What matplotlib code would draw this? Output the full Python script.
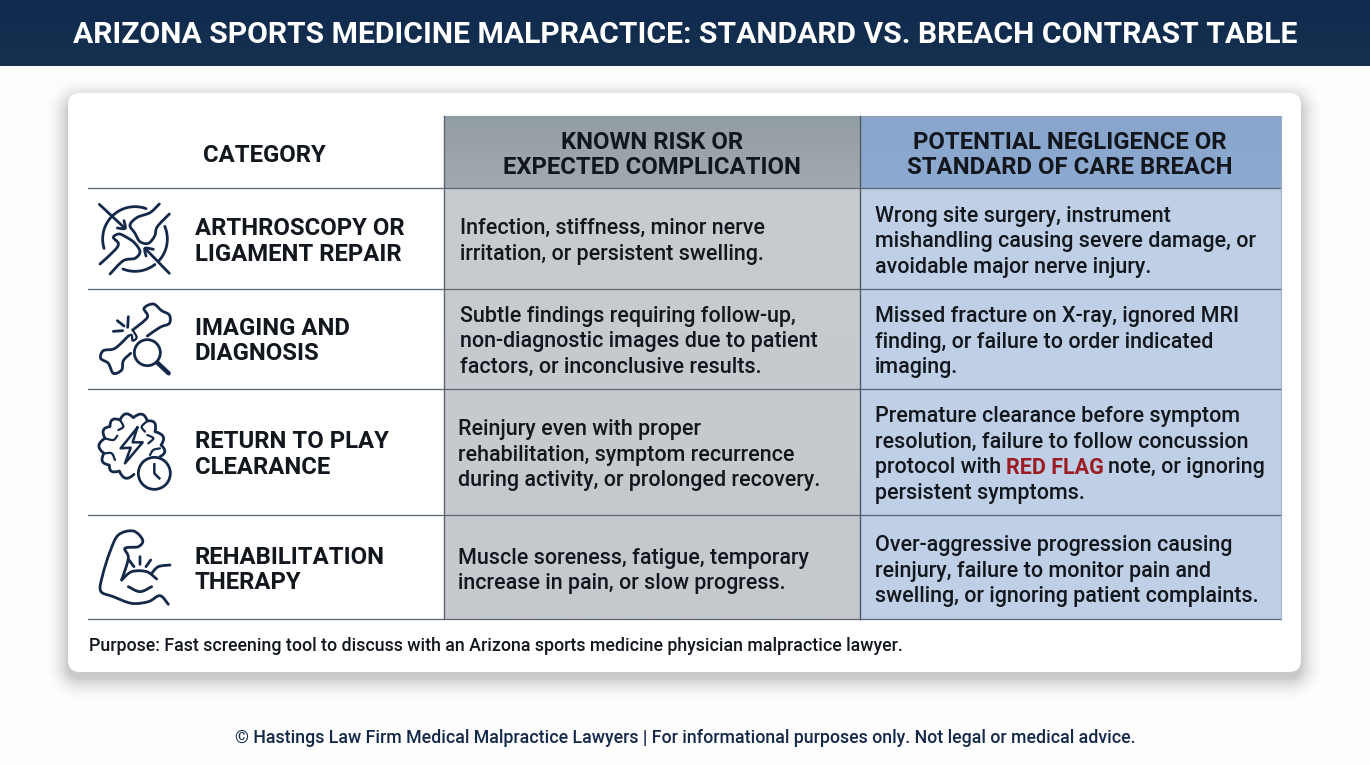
import numpy as np
import matplotlib
matplotlib.use('Agg')
import matplotlib.pyplot as plt
from matplotlib.patches import FancyBboxPatch, Circle
from matplotlib.path import Path
from matplotlib.patches import PathPatch

TITLE = 'ARIZONA SPORTS MEDICINE MALPRACTICE: STANDARD VS. BREACH CONTRAST TABLE'
HEAD_CATEGORY = 'CATEGORY'
HEAD_KNOWN = ['KNOWN RISK OR', 'EXPECTED COMPLICATION']
HEAD_BREACH = ['POTENTIAL NEGLIGENCE OR', 'STANDARD OF CARE BREACH']
CATEGORIES = [['ARTHROSCOPY OR', 'LIGAMENT REPAIR'],
              ['IMAGING AND', 'DIAGNOSIS'],
              ['RETURN TO PLAY', 'CLEARANCE'],
              ['REHABILITATION', 'THERAPY']]
KNOWN = [['Infection, stiffness, minor nerve', 'irritation, or persistent swelling.'],
         ['Subtle findings requiring follow-up,', 'non-diagnostic images due to patient', 'factors, or inconclusive results.'],
         ['Reinjury even with proper', 'rehabilitation, symptom recurrence', 'during activity, or prolonged recovery.'],
         ['Muscle soreness, fatigue, temporary', 'increase in pain, or slow progress.']]
BREACH = [['Wrong site surgery, instrument', 'mishandling causing severe damage, or', 'avoidable major nerve injury.'],
          ['Missed fracture on X-ray, ignored MRI', 'finding, or failure to order indicated', 'imaging.'],
          ['Premature clearance before symptom', 'resolution, failure to follow concussion', 'protocol with|RED FLAG|note, or ignoring', 'persistent symptoms.'],
          ['Over-aggressive progression causing', 'reinjury, failure to monitor pain and', 'swelling, or ignoring patient complaints.']]
PURPOSE = 'Purpose: Fast screening tool to discuss with an Arizona sports medicine physician malpractice lawyer.'
FOOTER = '© Hastings Law Firm Medical Malpractice Lawyers | For informational purposes only. Not legal or medical advice.'

# layout in pixels
COL_X = [88, 444.5, 860, 1281]
ROW_Y = [116, 188, 289, 388.5, 515, 619]
LINE_H = 25.5
NAVY = '#14294a'
INK = '#12161d'
BODY = 15.5
HEAD = 17.2

plt.rcParams['font.family'] = ['Roboto', 'DejaVu Sans']

fig = plt.figure(figsize=(13.7, 7.65), dpi=100, facecolor='#fdfdfd')
ax = fig.add_axes([0, 0, 1, 1])
ax.set_xlim(0, 1370)
ax.set_ylim(765, 0)
ax.axis('off')


def grad(x0, x1, y0, y1, top, bottom, z=2):
    col = np.array([matplotlib.colors.to_rgb(top), matplotlib.colors.to_rgb(bottom)])
    t = np.linspace(0, 1, 64)[:, None]
    im = col[0] * (1 - t) + col[1] * t
    ax.imshow(im[:, None, :], extent=[x0, x1, y1, y0], aspect='auto', zorder=z, interpolation='bilinear')


def shadow():
    # soft shadow from the distance to the card's rounded rectangle
    xx, yy = np.meshgrid(np.arange(1370) + 0.5, np.arange(765) + 0.5)
    cx, cy, hw, hh, r = 684.5, 389, 616.5 - 12, 289.5 - 12, 12
    dx = np.maximum(np.abs(xx - cx) - hw, 0)
    dy = np.maximum(np.abs(yy - cy) - hh, 0)
    d = np.hypot(dx, dy) - r
    a = 0.20 * np.clip(1 - d / 26, 0, 1) ** 2.2
    im = np.zeros((765, 1370, 4))
    im[..., 3] = a
    ax.imshow(im, extent=[0, 1370, 765, 0], aspect='auto', zorder=1, interpolation='bilinear')


def block(x, yc, lines, size, weight, ha='left', color=INK):
    y0 = yc - LINE_H * (len(lines) - 1) / 2
    for i, s in enumerate(lines):
        ax.text(x, y0 + i * LINE_H, s, fontsize=size, fontweight=weight, ha=ha, va='center_baseline', color=color, zorder=6)


def mixed(x, y, s, size, weight):
    # line with the red words in the middle
    r = fig.canvas.get_renderer()
    for part, colr, w in zip(s.split('|'), (INK, '#9c1c24', INK), (weight, 'bold', weight)):
        t = ax.text(x, y, part, fontsize=size, fontweight=w, va='center_baseline', color=colr, zorder=6)
        x = ax.transData.inverted().transform(t.get_window_extent(r))[1][0] + 4.5


def curve(pts, org, lw=2.0):
    # smooth line through points given in 3x zoom pixels from org
    p = np.array(pts, float) / 3 + org
    p2 = np.vstack([p[0], p, p[-1]])
    verts = [p[0]]
    codes = [Path.MOVETO]
    for i in range(1, len(p2) - 2):
        verts += [p2[i] + (p2[i + 1] - p2[i - 1]) / 6, p2[i + 1] - (p2[i + 2] - p2[i]) / 6, p2[i + 1]]
        codes += [Path.CURVE4] * 3
    ax.add_patch(PathPatch(Path(verts, codes), fill=False, ec=NAVY, lw=lw, capstyle='round', joinstyle='round', zorder=6))


def arc(cx, cy, r, a0, a1, org, lw=2.0):
    t = np.radians(np.linspace(a0, a1, 40))
    ax.plot(org[0] + (cx + r * np.cos(t)) / 3, org[1] + (cy + r * np.sin(t)) / 3, color=NAVY, lw=lw, solid_capstyle='round', zorder=6)


def lobes(pts, centre, org, lw=2.0):
    # scalloped outline: one outward bump between neighbouring valley points
    p = np.array(pts, float)
    c = np.array(centre, float)
    verts = [p[0] / 3 + org]
    codes = [Path.MOVETO]
    for a, b in zip(p[:-1], p[1:]):
        m = (a + b) / 2
        u = (m - c) / np.linalg.norm(m - c)
        verts += [(m + u * 0.75 * np.linalg.norm(b - a)) / 3 + org, b / 3 + org]
        codes += [Path.CURVE3] * 2
    ax.add_patch(PathPatch(Path(verts, codes), fill=False, ec=NAVY, lw=lw, capstyle='round', joinstyle='round', zorder=6))


def icons():
    o = np.array((60, 90))
    arc(225, 447, 97, 163, 290, o)
    arc(225, 447, 97, -23, 44, o)
    arc(225, 447, 97, 52, 112, o)
    curve([(118, 343), (195, 415)], o)
    curve([(172, 414), (195, 415), (192, 392)], o)
    curve([(328, 550), (255, 475)], o)
    curve([(280, 478), (255, 475), (258, 498)], o)
    curve([(298, 342), (270, 368), (232, 382), (210, 405), (225, 430), (240, 455), (265, 460), (284, 438), (292, 410), (328, 372)], o)
    curve([(120, 522), (165, 480), (175, 460), (160, 442), (178, 432), (205, 445), (225, 460), (240, 485), (225, 505), (190, 512), (150, 552)], o)
    # bone and magnifier
    curve([(218, 720), (262, 682), (252, 655), (280, 642), (305, 662), (328, 675), (328, 700), (300, 712), (262, 738)], o)
    curve([(205, 738), (165, 775), (130, 782), (122, 805), (145, 820), (160, 850), (185, 840), (190, 812), (212, 790)], o)
    curve([(205, 738), (215, 735), (218, 752), (230, 742), (218, 720)], o, 1.6)
    curve([(205, 680), (203, 712)], o)
    curve([(172, 692), (192, 708)], o)
    curve([(160, 724), (188, 722)], o)
    ax.add_patch(Circle((60 + 262 / 3, 90 + 788 / 3), 13, fill=False, ec=NAVY, lw=2, zorder=6))
    curve([(292, 818), (326, 850)], o, 3.2)
    # brain and clock
    o = np.array((60, 385))
    lobes([(222, 268), (178, 258), (148, 240), (132, 205), (135, 160), (150, 125), (180, 105),
           (220, 98), (262, 108), (285, 140), (303, 180), (300, 215)], (215, 185), o)
    curve([(135, 160), (160, 165), (172, 152)], o, 1.6)
    curve([(262, 150), (280, 160), (265, 175)], o, 1.6)
    curve([(135, 205), (155, 205), (165, 225)], o, 1.6)
    curve([(180, 105), (190, 125), (175, 135)], o, 1.6)
    curve([(262, 108), (245, 125), (255, 140)], o, 1.6)
    curve([(300, 190), (280, 195), (270, 210)], o, 1.6)
    ax.plot(*zip(*[(60 + x / 3, 385 + y / 3) for x, y in
                   [(232, 128), (182, 190), (212, 188), (195, 235), (248, 172), (218, 172), (232, 128)]]),
            color=NAVY, lw=1.8, zorder=6)
    ax.add_patch(Circle((60 + 283 / 3, 385 + 265 / 3), 16, fc='white', ec=NAVY, lw=2, zorder=6))
    ax.plot([60 + 283 / 3, 60 + 283 / 3, 60 + 298 / 3], [385 + 238 / 3, 385 + 265 / 3, 385 + 280 / 3], color=NAVY, lw=1.8, zorder=7)
    # arm
    curve([(325, 658), (300, 632), (265, 650), (215, 655), (160, 635), (122, 618), (128, 570), (150, 500), (175, 450),
           (220, 438), (248, 465), (235, 485), (195, 490), (205, 520), (185, 585)], o)
    curve([(185, 585), (215, 560), (260, 560), (290, 582)], o)
    curve([(275, 565), (295, 545), (330, 540)], o)
    curve([(205, 605), (240, 620), (275, 605)], o)
    curve([(240, 515), (240, 538)], o)
    curve([(207, 525), (222, 545)], o)
    curve([(272, 525), (258, 545)], o)


# banner
grad(0, 1370, 0, 66, '#0f2a4e', '#16304f', 1)

# card
shadow()
ax.add_patch(FancyBboxPatch((68, 93), 1233, 579, boxstyle='round,pad=0,rounding_size=12', fc='white', ec='none', zorder=1.5))

# column fills
grad(COL_X[1], COL_X[2], ROW_Y[0], ROW_Y[1], '#929da2', '#a3aaaf')
grad(COL_X[2], COL_X[3], ROW_Y[0], ROW_Y[1], '#88a5cc', '#8eaad0')
grad(COL_X[1], COL_X[2], ROW_Y[1], ROW_Y[5], '#c8cccf', '#c5c9cd')
grad(COL_X[2], COL_X[3], ROW_Y[1], ROW_Y[5], '#c0d0e6', '#bfcfe5')

# rules
for y in ROW_Y[1:]:
    ax.plot([COL_X[0], COL_X[3]], [y, y], color='#5a6672', lw=0.9, zorder=4)
ax.plot([COL_X[1], COL_X[3]], [ROW_Y[0], ROW_Y[0]], color='#8d9aa8', lw=0.8, zorder=4)
ax.plot([COL_X[1], COL_X[1]], [ROW_Y[0], ROW_Y[5]], color='#5a6672', lw=1.0, zorder=4)
ax.plot([COL_X[2], COL_X[2]], [ROW_Y[0], ROW_Y[5]], color='#4d5a68', lw=1.0, zorder=4)
ax.plot([COL_X[3], COL_X[3]], [ROW_Y[0], ROW_Y[5]], color='#9fb0c6', lw=0.8, zorder=4)

# text
ax.text(685, 32, TITLE, fontsize=21.7, fontweight='bold', ha='center', va='center_baseline', color='white', zorder=6)
ax.text(264.5, 152.5, HEAD_CATEGORY, fontsize=HEAD, fontweight='bold', ha='center', va='center_baseline', color=INK, zorder=6)
block(652, 152.5, HEAD_KNOWN, HEAD, 'bold', ha='center')
block(1070, 152.5, HEAD_BREACH, HEAD, 'bold', ha='center')

CAT_Y = [239, 338.5, 452, 567.5]
KNOWN_X = [460, 460, 458, 458]
KNOWN_Y = [239, 339, 452.5, 568.5]
BREACH_X = [875, 875, 875, 875]
BREACH_Y = [239, 339.5, 452.5, 568.5]
for i in range(4):
    block(195, CAT_Y[i], CATEGORIES[i], HEAD, 'bold')
    block(KNOWN_X[i], KNOWN_Y[i], KNOWN[i], BODY, 'medium')
    y0 = BREACH_Y[i] - LINE_H * (len(BREACH[i]) - 1) / 2
    for j, s in enumerate(BREACH[i]):
        if '|' in s:
            mixed(BREACH_X[i], y0 + j * LINE_H, s, BODY, 'medium')
        else:
            block(BREACH_X[i], y0 + j * LINE_H, [s], BODY, 'medium')

ax.text(89, 644, PURPOSE, fontsize=12.75, fontweight='medium', va='center_baseline', color=INK, zorder=6)
ax.text(685, 736, FOOTER, fontsize=12.8, fontweight='medium', ha='center', va='center_baseline', color=NAVY, zorder=6)

icons()
ax.set_xlim(0, 1370)
ax.set_ylim(765, 0)
fig.savefig('out.png', dpi=100, facecolor=fig.get_facecolor())
